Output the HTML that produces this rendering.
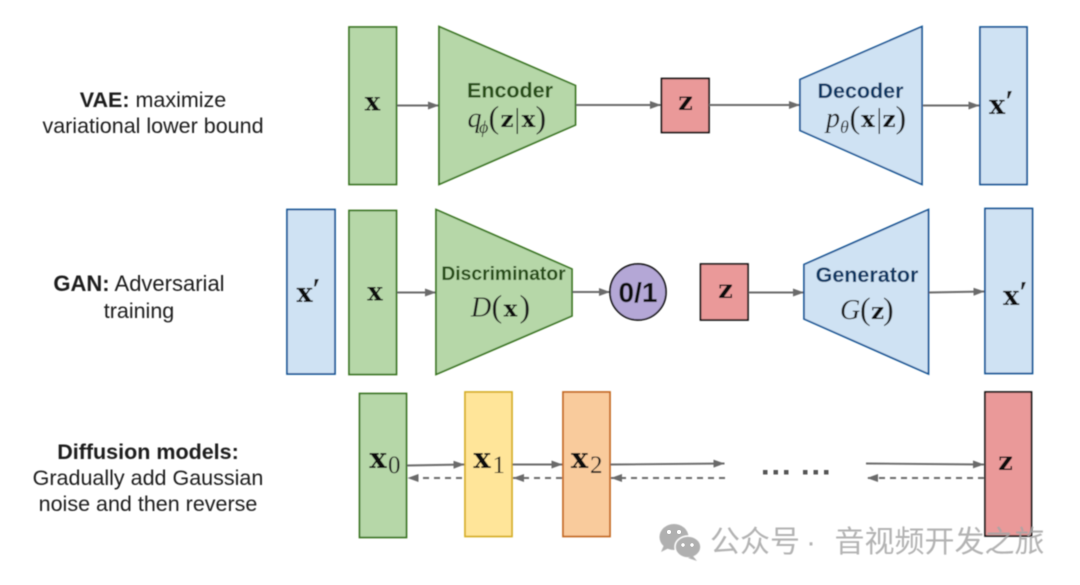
<!DOCTYPE html>
<html><head><meta charset="utf-8"><style>
html,body{margin:0;padding:0;background:#fff;width:1080px;height:585px;overflow:hidden}
svg{display:block}
.t{font-family:"Liberation Sans",sans-serif;font-size:21.5px;fill:#1c1c1c;text-anchor:middle}
.h{font-family:"Liberation Sans",sans-serif;font-size:21.5px;font-weight:bold;text-anchor:middle}
.m{font-family:"Liberation Serif",serif;fill:#1a1a1a;font-size:28px}
.b{font-family:"DejaVu Serif",serif;font-weight:bold;fill:#111;font-size:26px;text-anchor:middle}
.x{font-family:"DejaVu Serif",serif;font-weight:bold;fill:#111;font-size:23px;text-anchor:middle}
.i{font-style:italic}
.s{font-family:"Liberation Serif",serif;fill:#1a1a1a;font-size:25px}
.p{font-family:"Liberation Serif",serif;fill:#1a1a1a;font-size:32px}
.l{stroke:#6a6a6a;stroke-width:1.9;fill:none}
.d{stroke:#6a6a6a;stroke-width:1.9;fill:none;stroke-dasharray:6 5}
.g{fill:#b6d7a8;stroke:#38761d;stroke-width:1.7}
.u{fill:#cfe2f3;stroke:#0b5394;stroke-width:1.7}
.r{fill:#ea9999;stroke:#111;stroke-width:1.7}
</style></head><body>
<svg width="1080" height="585" viewBox="0 0 1080 585" xmlns="http://www.w3.org/2000/svg">
<defs>
<marker id="a" markerWidth="12" markerHeight="10" refX="11" refY="4" orient="auto" markerUnits="userSpaceOnUse"><path d="M0 0L11 4L0 8z" fill="#6a6a6a"/></marker>
<filter id="bl"><feGaussianBlur stdDeviation="0.45"/></filter>
</defs>
<g filter="url(#bl)">
<!-- left labels -->
<text class="t" x="153" y="107"><tspan font-weight="bold">VAE:</tspan> maximize</text>
<text class="t" x="153" y="133">variational lower bound</text>
<text class="t" x="139" y="291" style="font-size:22px"><tspan font-weight="bold">GAN:</tspan> Adversarial</text>
<text class="t" x="139" y="318">training</text>
<text class="t" x="148" y="459" font-weight="bold">Diffusion models:</text>
<text class="t" x="148" y="485">Gradually add Gaussian</text>
<text class="t" x="148" y="511">noise and then reverse</text>

<!-- VAE -->
<rect class="g" x="349" y="27" width="47.5" height="157.5"/>
<text class="b" x="372.5" y="110.5">x</text>
<line class="l" x1="397" y1="105.5" x2="439" y2="105.5" marker-end="url(#a)"/>
<polygon class="g" points="439,26.5 575.5,85.5 575.5,125 439,184.5"/>
<text class="h" x="510" y="97.5" fill="#274e13">Encoder</text>
<text class="m i" x="467.5" y="127">q</text>
<text class="s i" x="479" y="133" style="font-size:18px">ϕ</text>
<text class="p" x="488.5" y="128">(</text>
<text class="x" x="507" y="127">z</text>
<text class="m" x="514.5" y="128">|</text>
<text class="x" x="528.5" y="127">x</text>
<text class="p" x="535.5" y="128">)</text>
<line class="l" x1="576" y1="105" x2="661" y2="105" marker-end="url(#a)"/>
<rect class="r" x="661.5" y="78.5" width="47.5" height="54"/>
<text class="b" x="685.5" y="110">z</text>
<line class="l" x1="709" y1="105" x2="800" y2="105" marker-end="url(#a)"/>
<polygon class="u" points="800,79.5 922,26.5 922,184.5 800,130.5"/>
<text class="h" x="860.5" y="98" fill="#073763">Decoder</text>
<text class="m i" x="826" y="127">p</text>
<text class="s i" x="840" y="133" style="font-size:18px">θ</text>
<text class="p" x="849.5" y="128">(</text>
<text class="x" x="868" y="127">x</text>
<text class="m" x="876.5" y="128">|</text>
<text class="x" x="889" y="127">z</text>
<text class="p" x="895.5" y="128">)</text>
<line class="l" x1="923" y1="105.5" x2="979.5" y2="105.5" marker-end="url(#a)"/>
<rect class="u" x="980" y="27" width="47" height="157.5"/>
<text class="b" x="997" y="114" style="font-size:27px">x</text>
<text class="p" x="1005" y="112" font-weight="bold" font-size="30">′</text>

<!-- GAN -->
<rect class="u" x="287" y="209.5" width="48" height="164.5"/>
<text class="b" x="304.5" y="302" style="font-size:27px">x</text>
<text class="p" x="312" y="300" font-weight="bold" font-size="30">′</text>
<rect class="g" x="349" y="210.5" width="47.5" height="164"/>
<text class="b" x="375" y="300.5">x</text>
<line class="l" x1="397" y1="292.5" x2="436" y2="292.5" marker-end="url(#a)"/>
<polygon class="g" points="436,209.5 572,269 572,316 436,374.5"/>
<text x="503.5" y="280" fill="#274e13" text-anchor="middle" font-family="Liberation Sans,sans-serif" font-weight="bold" font-size="19.3px">Discriminator</text>
<text class="m i" x="471" y="316.5">D</text>
<text class="p" x="491.5" y="317">(</text>
<text class="x" x="510.5" y="316.5">x</text>
<text class="p" x="519.5" y="317">)</text>
<line class="l" x1="572.5" y1="292" x2="610" y2="292" marker-end="url(#a)"/>
<circle cx="638" cy="292" r="28" fill="#b4a7d6" stroke="#111" stroke-width="1.7"/>
<text x="638" y="302" text-anchor="middle" font-family="Liberation Sans,sans-serif" font-weight="bold" font-size="28px" fill="#111">0/1</text>
<rect class="r" x="700.5" y="264" width="47.5" height="56"/>
<text class="b" x="725.5" y="298">z</text>
<line class="l" x1="748.5" y1="292.5" x2="804" y2="292.5" marker-end="url(#a)"/>
<polygon class="u" points="804,264.5 928.5,209.5 928.5,374 804,319"/>
<text class="h" x="867" y="282" fill="#073763">Generator</text>
<text class="m i" x="840" y="319">G</text>
<text class="p" x="860" y="319.5">(</text>
<text class="x" x="877.5" y="319">z</text>
<text class="p" x="883" y="319.5">)</text>
<line class="l" x1="929" y1="292.5" x2="984.5" y2="291.5" marker-end="url(#a)"/>
<rect class="u" x="985" y="208.5" width="47.5" height="165"/>
<text class="b" x="1011" y="305" style="font-size:27px">x</text>
<text class="p" x="1019" y="303" font-weight="bold" font-size="30">′</text>

<!-- Diffusion -->
<rect class="g" x="359.5" y="393.5" width="47" height="144"/>
<text class="b" x="378" y="468" style="font-size:29px">x</text>
<text class="s" x="388" y="473">0</text>
<line class="l" x1="407" y1="465.5" x2="464.5" y2="464.5" marker-end="url(#a)"/>
<line class="d" x1="462" y1="478" x2="407.5" y2="478" marker-end="url(#a)"/>
<rect x="465" y="392" width="47" height="144.5" fill="#ffe599" stroke="#d6ae24" stroke-width="1.7"/>
<text class="b" x="482" y="468" style="font-size:29px">x</text>
<text class="s" x="492.5" y="473">1</text>
<line class="l" x1="512.5" y1="464.5" x2="562.5" y2="464.5" marker-end="url(#a)"/>
<line class="d" x1="562" y1="478" x2="513" y2="478" marker-end="url(#a)"/>
<rect x="563" y="392" width="47" height="144.5" fill="#f9cb9c" stroke="#c4671b" stroke-width="1.7"/>
<text class="b" x="579.5" y="468" style="font-size:29px">x</text>
<text class="s" x="590" y="473">2</text>
<line class="l" x1="610.5" y1="464.5" x2="724.5" y2="463.5" marker-end="url(#a)"/>
<line class="d" x1="725" y1="478" x2="611" y2="478" marker-end="url(#a)"/>
<g fill="#555">
<rect x="763" y="470" width="4.5" height="4.5"/><rect x="773.5" y="470" width="4.5" height="4.5"/><rect x="784" y="470" width="4.5" height="4.5"/>
<rect x="803" y="470" width="4.5" height="4.5"/><rect x="813.5" y="470" width="4.5" height="4.5"/><rect x="824" y="470" width="4.5" height="4.5"/>
</g>
<line class="l" x1="866" y1="463.5" x2="984" y2="464.5" marker-end="url(#a)"/>
<line class="d" x1="984" y1="478" x2="867" y2="478" marker-end="url(#a)"/>
<rect class="r" x="985" y="392" width="46.5" height="144"/>
<text class="b" x="1005.5" y="470">z</text>
</g>

<!-- watermark -->
<g fill="#b0b0b0" filter="url(#bl)">
<ellipse cx="674" cy="537" rx="14.5" ry="13"/>
<path d="M664 545l-3 7 8-4z"/>
<ellipse cx="688" cy="547" rx="13" ry="11" stroke="#fff" stroke-width="1.5"/>
<path d="M693 556l4 5-9-3z"/>
</g>
<g fill="#fff"><circle cx="669" cy="532" r="2"/><circle cx="679" cy="532" r="2"/><circle cx="683" cy="545" r="1.7"/><circle cx="692" cy="545" r="1.7"/></g>
<g font-family="'Liberation Sans','Noto Sans CJK SC',sans-serif" font-size="30px" fill="#a6a6a6" fill-opacity="0.85" filter="url(#bl)">
<text x="710" y="552">公众号</text>
<text x="806" y="552">·</text>
<text x="834.5" y="552">音视频开发之旅</text>
</g>
</svg>
</body></html>
